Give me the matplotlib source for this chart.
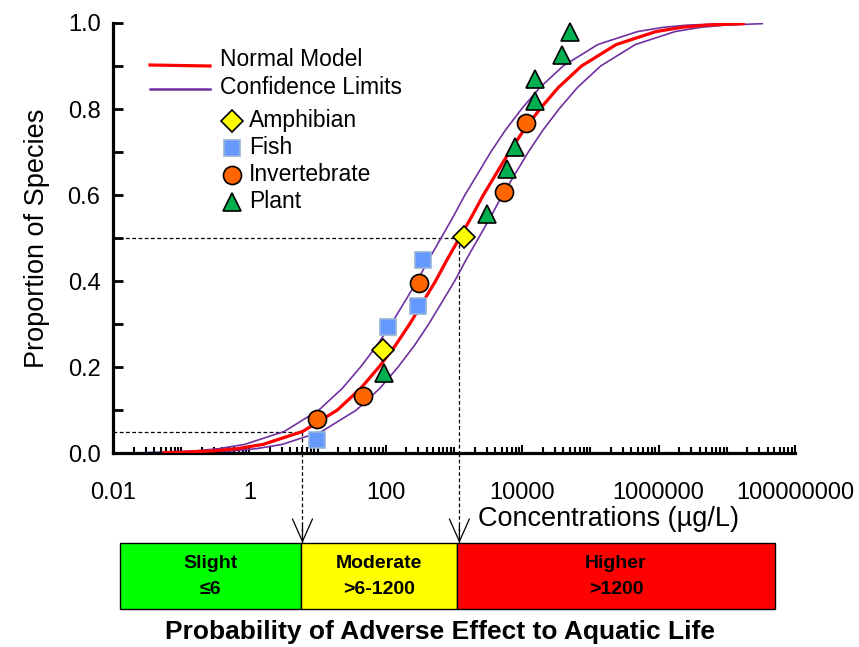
import numpy as np
import matplotlib
matplotlib.use('Agg')
import matplotlib.pyplot as plt
import matplotlib.ticker as ticker
import matplotlib.transforms as mtransforms
from matplotlib.patches import Rectangle
from matplotlib.lines import Line2D

plt.rcParams['font.family'] = ['Liberation Sans', 'DejaVu Sans']

# --- data ----------------------------------------------------------------
# species sensitivity points: concentration (ug/L), cumulative proportion
amphibian_conc = [92, 1400]
amphibian_prop = [0.239, 0.502]
fish_conc = [9.7, 109, 300, 347]
fish_prop = [0.030, 0.292, 0.342, 0.449]
invert_conc = [9.7, 46, 307, 5400, 11250]
invert_prop = [0.080, 0.133, 0.396, 0.607, 0.767]
plant_conc = [95, 3080, 6060, 7760, 15550, 15550, 38700, 50200]
plant_prop = [0.185, 0.555, 0.660, 0.712, 0.819, 0.870, 0.925, 0.978]

# fitted curves: proportion levels and log10 concentration at each level
curve_prop = [0.001, 0.002, 0.005, 0.01, 0.02, 0.05, 0.10, 0.15, 0.20, 0.25,
              0.30, 0.35, 0.40, 0.45, 0.50, 0.55, 0.60, 0.65, 0.70, 0.75,
              0.80, 0.85, 0.90, 0.95, 0.98, 0.99, 0.995, 0.9985]
model_log = [-1.25, -0.95, -0.53, -0.18, 0.20, 0.78, 1.29, 1.63, 1.90, 2.14,
             2.35, 2.54, 2.73, 2.90, 3.08, 3.26, 3.43, 3.62, 3.81, 4.02,
             4.26, 4.53, 4.87, 5.38, 5.96, 6.34, 6.69, 7.24]
upper_log = [-1.52, -1.22, -0.80, -0.45, -0.07, 0.51, 1.02, 1.36, 1.63, 1.87,
             2.08, 2.27, 2.46, 2.63, 2.81, 2.99, 3.16, 3.35, 3.54, 3.75,
             3.99, 4.26, 4.60, 5.11, 5.69, 6.07, 6.42, 6.97]
lower_log = [-0.97, -0.67, -0.25, 0.10, 0.48, 1.06, 1.57, 1.91, 2.18, 2.42,
             2.63, 2.82, 3.01, 3.18, 3.36, 3.54, 3.71, 3.90, 4.09, 4.30,
             4.54, 4.81, 5.15, 5.66, 6.24, 6.62, 6.97, 7.52]

xtick_vals = [0.01, 1, 100, 1e4, 1e6, 1e8]
xtick_labels = ['0.01', '1', '100', '10000', '1000000', '100000000']

hc5, hc50 = 6, 1200
categories = ['Slight', 'Moderate', 'Higher']
cat_ranges = ['\u22646', '>6-1200', '>1200']
cat_colors = ['#00FF00', '#FFFF00', '#FF0000']

# --- figure ------------------------------------------------------------------
W, H = 859, 647
def fx(px): return px / W
def fy(py): return 1 - py / H

purple = '#7030A0'
red = '#FF0000'
sty = {
    'amph': dict(marker='D', ms=11, mfc='#FFFF00', mec='black', mew=1.2),
    'fish': dict(marker='s', ms=12, mfc='#6699FF', mec='#95B3D7', mew=1.2),
    'inv': dict(marker='o', ms=13, mfc='#FF6600', mec='black', mew=1.2),
    'plant': dict(marker='^', ms=13, mfc='#00B050', mec='black', mew=1.2),
}

fig = plt.figure(figsize=(W / 100, H / 100), dpi=100)
ax = fig.add_axes([fx(113), fy(453), 682 / W, 430 / H])

ax.plot(10 ** np.array(upper_log), curve_prop, color=purple, lw=1.2, zorder=2)
ax.plot(10 ** np.array(lower_log), curve_prop, color=purple, lw=1.2, zorder=2)
ax.plot(10 ** np.array(model_log), curve_prop, color=red, lw=2.3, zorder=3)

for c, p, k in [(amphibian_conc, amphibian_prop, 'amph'),
                (fish_conc, fish_prop, 'fish'),
                (invert_conc, invert_prop, 'inv'),
                (plant_conc, plant_prop, 'plant')]:
    ax.plot(c, p, ls='none', zorder=5, clip_on=False, **sty[k])

ax.set_xscale('log')
ax.set_xlim(0.01, 1e8)
ax.set_ylim(0, 1.0)
ax.xaxis.set_major_locator(ticker.FixedLocator(xtick_vals))
ax.xaxis.set_major_formatter(ticker.FixedFormatter(xtick_labels))
ax.xaxis.set_minor_locator(ticker.LogLocator(base=10, subs=np.arange(1, 10), numticks=100))
ax.xaxis.set_minor_formatter(ticker.NullFormatter())
ax.yaxis.set_major_locator(ticker.MultipleLocator(0.2))
ax.yaxis.set_minor_locator(ticker.MultipleLocator(0.1))
ax.yaxis.set_major_formatter(ticker.FormatStrFormatter('%.1f'))

ax.tick_params(axis='x', which='major', direction='in', length=6, width=1.5, pad=21, labelsize=17)
ax.tick_params(axis='x', which='minor', direction='in', length=4.5, width=1.5)
ax.tick_params(axis='y', which='both', direction='in', length=7, width=2, pad=9, labelsize=17)
for s in ['top', 'right']:
    ax.spines[s].set_visible(False)
for s in ['left', 'bottom']:
    ax.spines[s].set_linewidth(2.3)

ax.set_ylabel('Proportion of Species', fontsize=19.5, labelpad=13)
fig.text(fx(608), fy(519), 'Concentrations (\u00b5g/L)', fontsize=19.5, ha='center', va='center')

# HC5 / HC50 guide lines
dash = dict(color='black', lw=0.9, ls=(0, (3, 2)))
ax.plot([0.01, hc50], [0.5, 0.5], zorder=1, **dash)
ax.plot([0.01, hc5], [0.05, 0.05], zorder=1, **dash)
blend = mtransforms.blended_transform_factory(ax.transData, fig.transFigure)
for xv, y0 in [(hc5, 0.05), (hc50, 0.5)]:
    ax.plot([xv, xv], [y0, 0], zorder=1, **dash)
    fig.add_artist(Line2D([xv, xv], [fy(453), fy(543)], transform=blend, **dash))
    ax.annotate('', xy=(xv, fy(543)), xytext=(xv, fy(525)), xycoords=blend,
                textcoords=blend,
                arrowprops=dict(arrowstyle='->,head_length=0.9,head_width=0.4',
                                color='black', lw=0.9, mutation_scale=18,
                                shrinkA=0, shrinkB=0))

# legend drawn by hand to match the layout
fig.add_artist(Line2D([fx(150), fx(210)], [fy(65), fy(66)], color=red, lw=2.3))
fig.add_artist(Line2D([fx(150), fx(210)], [fy(89), fy(89)], color=purple, lw=1.8))
fig.text(fx(220), fy(60), 'Normal Model', fontsize=16.5, va='center')
fig.text(fx(220), fy(88), 'Confidence Limits', fontsize=16.5, va='center')
leg_rows = [('amph', 'Amphibian', 121), ('fish', 'Fish', 148),
            ('inv', 'Invertebrate', 175), ('plant', 'Plant', 202)]
for k, lab, py in leg_rows:
    fig.add_artist(Line2D([fx(232)], [fy(py)], ls='none', **sty[k]))
    fig.text(fx(249), fy(py - 1), lab, fontsize=16.5, va='center')

# category bar
edges = [120, 301, 457, 775]
for i in range(3):
    fig.add_artist(Rectangle((fx(edges[i]), fy(609)), (edges[i + 1] - edges[i]) / W,
                             66 / H, transform=fig.transFigure,
                             facecolor=cat_colors[i], edgecolor='black', lw=1))
    cx = fx((edges[i] + edges[i + 1]) / 2)
    fig.text(cx, fy(564), categories[i], fontsize=14, fontweight='bold',
             ha='center', va='center')
    fig.text(cx, fy(589), cat_ranges[i], fontsize=14, fontweight='bold',
             ha='center', va='center')

fig.text(fx(440), fy(632), 'Probability of Adverse Effect to Aquatic Life',
         fontsize=19, fontweight='bold', ha='center', va='center')

fig.savefig('out.png', dpi=100)
